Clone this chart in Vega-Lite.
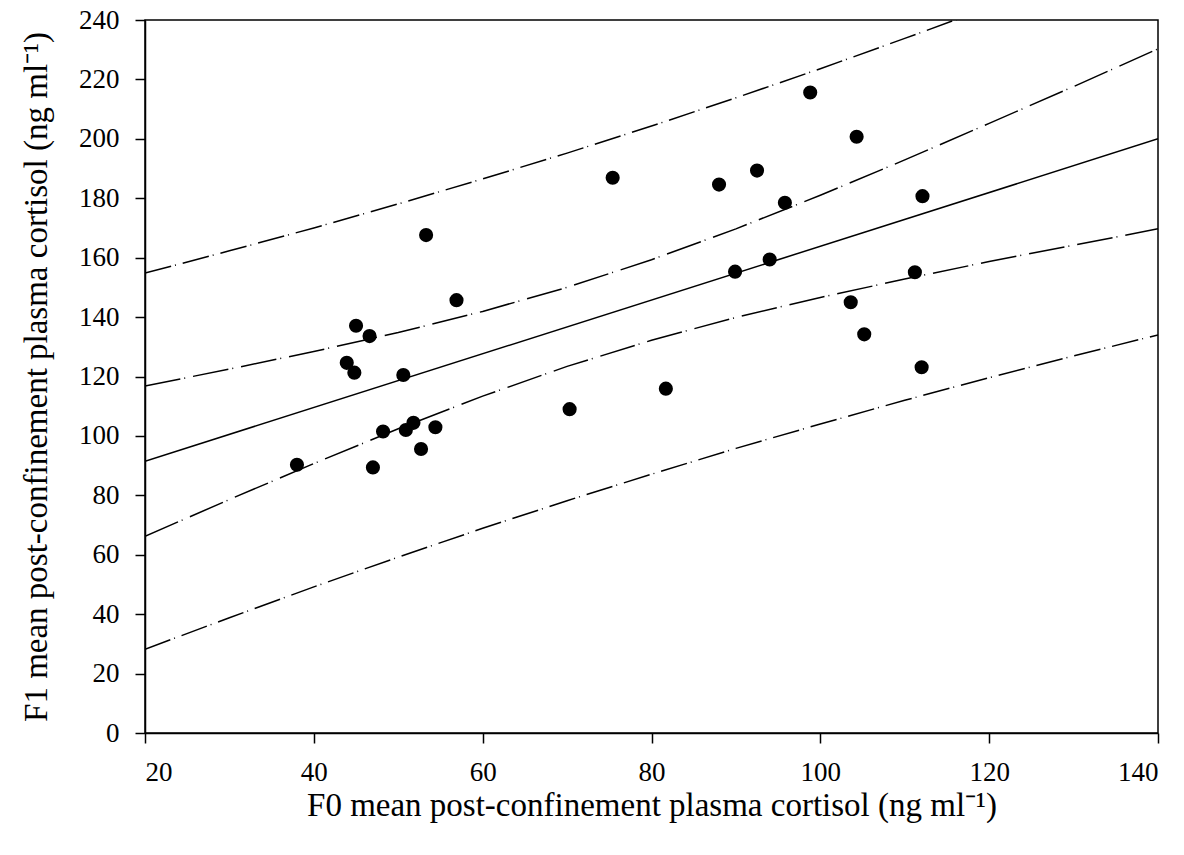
{
  "$schema": "https://vega.github.io/schema/vega-lite/v6.json",
  "width": 1013,
  "height": 713,
  "autosize": {"type": "none"},
  "padding": {"left": 145, "top": 20, "right": 26, "bottom": 122},
  "background": "white",
  "config": {
    "view": {"stroke": "black", "strokeWidth": 1.5},
    "font": "Liberation Serif",
    "axis": {
      "grid": false,
      "domainColor": "black",
      "domainWidth": 1.5,
      "tickColor": "black",
      "tickWidth": 1.5,
      "tickSize": 10,
      "labelFont": "Liberation Serif",
      "labelFontSize": 27,
      "labelColor": "black",
      "titleFont": "Liberation Serif",
      "titleFontSize": 33,
      "titleFontWeight": "normal",
      "titleColor": "black"
    }
  },
  "datasets": {
    "points": [
      {"f0": 38.0, "f1": 90.3},
      {"f0": 43.9, "f1": 124.6},
      {"f0": 44.8, "f1": 121.3},
      {"f0": 45.0, "f1": 137.1},
      {"f0": 46.6, "f1": 133.6},
      {"f0": 47.0, "f1": 89.4},
      {"f0": 48.2, "f1": 101.5},
      {"f0": 50.6, "f1": 120.5},
      {"f0": 50.9, "f1": 102.0},
      {"f0": 51.8, "f1": 104.4},
      {"f0": 52.7, "f1": 95.6},
      {"f0": 53.3, "f1": 167.6},
      {"f0": 54.4, "f1": 102.9},
      {"f0": 56.9, "f1": 145.7},
      {"f0": 70.3, "f1": 109.0},
      {"f0": 75.4, "f1": 186.9},
      {"f0": 81.7, "f1": 115.9},
      {"f0": 88.0, "f1": 184.6},
      {"f0": 89.9, "f1": 155.3},
      {"f0": 92.5, "f1": 189.3},
      {"f0": 94.0, "f1": 159.4},
      {"f0": 95.8, "f1": 178.5},
      {"f0": 98.8, "f1": 215.6},
      {"f0": 103.6, "f1": 145.0},
      {"f0": 104.3, "f1": 200.7},
      {"f0": 105.2, "f1": 134.2},
      {"f0": 111.2, "f1": 155.1},
      {"f0": 112.0, "f1": 123.1},
      {"f0": 112.1, "f1": 180.7}
    ],
    "curves": [
      {"band": "fit", "side": "mid", "x": 20, "y": 91.5},
      {"band": "fit", "side": "mid", "x": 140, "y": 200.0},

      {"band": "ci", "side": "upper", "x": 20, "y": 116.8},
      {"band": "ci", "side": "upper", "x": 30, "y": 122.5},
      {"band": "ci", "side": "upper", "x": 40, "y": 128.4},
      {"band": "ci", "side": "upper", "x": 50, "y": 134.8},
      {"band": "ci", "side": "upper", "x": 60, "y": 141.9},
      {"band": "ci", "side": "upper", "x": 70, "y": 150.0},
      {"band": "ci", "side": "upper", "x": 80, "y": 159.3},
      {"band": "ci", "side": "upper", "x": 90, "y": 169.7},
      {"band": "ci", "side": "upper", "x": 100, "y": 181.0},
      {"band": "ci", "side": "upper", "x": 110, "y": 192.9},
      {"band": "ci", "side": "upper", "x": 120, "y": 205.2},
      {"band": "ci", "side": "upper", "x": 130, "y": 217.6},
      {"band": "ci", "side": "upper", "x": 140, "y": 230.3},

      {"band": "ci", "side": "lower", "x": 20, "y": 66.2},
      {"band": "ci", "side": "lower", "x": 30, "y": 78.6},
      {"band": "ci", "side": "lower", "x": 40, "y": 90.7},
      {"band": "ci", "side": "lower", "x": 50, "y": 102.4},
      {"band": "ci", "side": "lower", "x": 60, "y": 113.4},
      {"band": "ci", "side": "lower", "x": 70, "y": 123.4},
      {"band": "ci", "side": "lower", "x": 80, "y": 132.2},
      {"band": "ci", "side": "lower", "x": 90, "y": 139.9},
      {"band": "ci", "side": "lower", "x": 100, "y": 146.6},
      {"band": "ci", "side": "lower", "x": 110, "y": 152.8},
      {"band": "ci", "side": "lower", "x": 120, "y": 158.7},
      {"band": "ci", "side": "lower", "x": 130, "y": 164.2},
      {"band": "ci", "side": "lower", "x": 140, "y": 169.7},

      {"band": "pi", "side": "upper", "x": 20, "y": 154.8},
      {"band": "pi", "side": "upper", "x": 30, "y": 162.3},
      {"band": "pi", "side": "upper", "x": 40, "y": 170.0},
      {"band": "pi", "side": "upper", "x": 50, "y": 178.1},
      {"band": "pi", "side": "upper", "x": 60, "y": 186.5},
      {"band": "pi", "side": "upper", "x": 70, "y": 195.2},
      {"band": "pi", "side": "upper", "x": 80, "y": 204.3},
      {"band": "pi", "side": "upper", "x": 90, "y": 213.8},
      {"band": "pi", "side": "upper", "x": 100, "y": 223.6},
      {"band": "pi", "side": "upper", "x": 110, "y": 233.8},
      {"band": "pi", "side": "upper", "x": 120, "y": 244.2},
      {"band": "pi", "side": "upper", "x": 130, "y": 255.0},
      {"band": "pi", "side": "upper", "x": 140, "y": 266.0},

      {"band": "pi", "side": "lower", "x": 20, "y": 28.2},
      {"band": "pi", "side": "lower", "x": 30, "y": 38.8},
      {"band": "pi", "side": "lower", "x": 40, "y": 49.2},
      {"band": "pi", "side": "lower", "x": 50, "y": 59.2},
      {"band": "pi", "side": "lower", "x": 60, "y": 68.9},
      {"band": "pi", "side": "lower", "x": 70, "y": 78.2},
      {"band": "pi", "side": "lower", "x": 80, "y": 87.1},
      {"band": "pi", "side": "lower", "x": 90, "y": 95.8},
      {"band": "pi", "side": "lower", "x": 100, "y": 104.0},
      {"band": "pi", "side": "lower", "x": 110, "y": 112.0},
      {"band": "pi", "side": "lower", "x": 120, "y": 119.6},
      {"band": "pi", "side": "lower", "x": 130, "y": 126.9},
      {"band": "pi", "side": "lower", "x": 140, "y": 134.0}
    ]
  },
  "layer": [
    {
      "data": {"name": "curves"},
      "transform": [{"filter": "datum.band === 'fit'"}],
      "mark": {"type": "line", "color": "black", "strokeWidth": 1.5, "clip": true},
      "encoding": {
        "x": {"field": "x", "type": "quantitative", "scale": {"domain": [20, 140], "nice": false}, "axis": {"values": [20, 40, 60, 80, 100, 120, 140], "title": "F0 mean post-confinement plasma cortisol (ng ml⁻¹)", "labelFont": "Liberation Serif", "labelFontSize": 27, "labelPadding": 16, "titlePadding": 4}},
        "y": {"field": "y", "type": "quantitative", "scale": {"domain": [0, 240], "nice": false}, "axis": {"values": [0, 20, 40, 60, 80, 100, 120, 140, 160, 180, 200, 220, 240], "title": "F1 mean post-confinement plasma cortisol (ng ml⁻¹)", "labelFont": "Liberation Serif", "labelFontSize": 27, "labelPadding": 16, "titlePadding": 25}}
      }
    },
    {
      "data": {"name": "curves"},
      "transform": [{"filter": "datum.band === 'ci'"}],
      "mark": {"type": "line", "color": "black", "strokeWidth": 1.5, "strokeDash": [36, 4, 1, 8], "clip": true},
      "encoding": {
        "x": {"field": "x", "type": "quantitative"},
        "y": {"field": "y", "type": "quantitative"},
        "detail": {"field": "side"}
      }
    },
    {
      "data": {"name": "curves"},
      "transform": [{"filter": "datum.band === 'pi'"}],
      "mark": {"type": "line", "color": "black", "strokeWidth": 1.5, "strokeDash": [27, 4, 1, 7], "clip": true},
      "encoding": {
        "x": {"field": "x", "type": "quantitative"},
        "y": {"field": "y", "type": "quantitative"},
        "detail": {"field": "side"}
      }
    },
    {
      "data": {"name": "points"},
      "mark": {"type": "point", "shape": "circle", "filled": true, "color": "black", "opacity": 1, "size": 200},
      "encoding": {
        "x": {"field": "f0", "type": "quantitative"},
        "y": {"field": "f1", "type": "quantitative"}
      }
    }
  ]
}
